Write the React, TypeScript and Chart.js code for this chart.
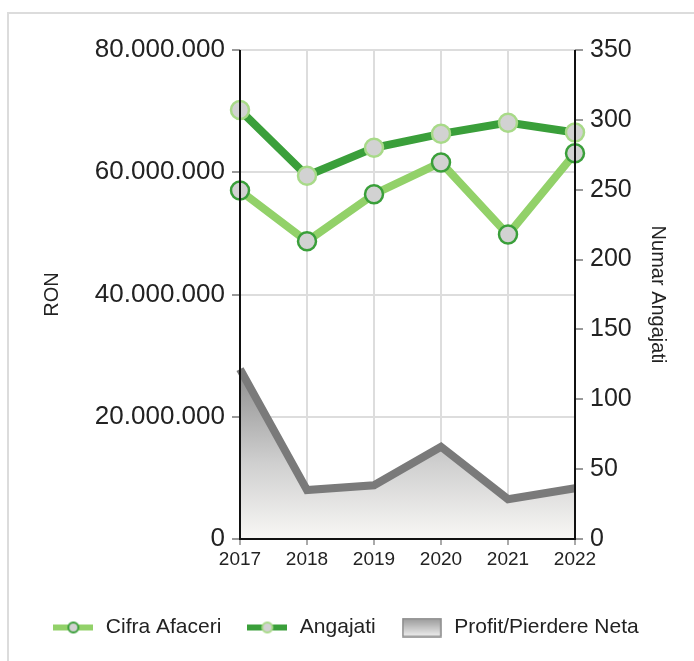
import React, { useEffect, useRef } from "react";
import { Chart, registerables } from "chart.js";

Chart.register(...registerables);

const years = ["2017", "2018", "2019", "2020", "2021", "2022"];
const cifraAfaceri = [57.0e6, 48.7e6, 56.4e6, 61.6e6, 49.8e6, 63.1e6];
const angajati = [307, 260, 280, 290, 298, 291];
const profitNet = [27.8e6, 8.0e6, 8.8e6, 15.1e6, 6.5e6, 8.3e6];
const leftTicks = [0, 20e6, 40e6, 60e6, 80e6];
const rightTicks = [0, 50, 100, 150, 200, 250, 300, 350];

const LIGHT_GREEN = "#92d169";
const DARK_GREEN = "#3a9f3a";
const POINT_FILL = "#d2d2d2";
const PROFIT_LINE = "#7a7a7a";
const FONT = "'Liberation Sans', Arial, Helvetica, sans-serif";

const fmtDots = (v: number) => String(Math.round(v)).replace(/\B(?=(\d{3})+(?!\d))/g, ".");

function lineIcon(lineColor: string, ringColor: string) {
  const c = document.createElement("canvas");
  c.width = 40;
  c.height = 20;
  const g = c.getContext("2d")!;
  g.strokeStyle = lineColor;
  g.lineWidth = 6;
  g.beginPath();
  g.moveTo(0, 10);
  g.lineTo(40, 10);
  g.stroke();
  g.beginPath();
  g.arc(20, 10, 5, 0, Math.PI * 2);
  g.fillStyle = POINT_FILL;
  g.fill();
  g.lineWidth = 2;
  g.strokeStyle = ringColor;
  g.stroke();
  return c;
}

function boxIcon() {
  const c = document.createElement("canvas");
  c.width = 40;
  c.height = 20;
  const g = c.getContext("2d")!;
  const gr = g.createLinearGradient(0, 1, 0, 19);
  gr.addColorStop(0, "#9a9a9a");
  gr.addColorStop(1, "#eeeeee");
  g.fillStyle = gr;
  g.fillRect(1, 1, 38, 18);
  g.strokeStyle = "#888888";
  g.lineWidth = 1.5;
  g.strokeRect(1, 1, 38, 18);
  return c;
}

const axisLines = {
  id: "axisLines",
  afterDatasetsDraw(chart: any) {
    const { ctx, chartArea } = chart;
    const { left, right, top, bottom } = chartArea;
    ctx.save();
    ctx.strokeStyle = "#111111";
    ctx.lineWidth = 2;
    ctx.beginPath();
    ctx.moveTo(left, top);
    ctx.lineTo(left, bottom);
    ctx.lineTo(right, bottom);
    ctx.lineTo(right, top);
    ctx.stroke();
    ctx.restore();
  },
};

export default function App() {
  const ref = useRef<HTMLCanvasElement | null>(null);

  useEffect(() => {
    if (!ref.current) return;
    const icons = [lineIcon(LIGHT_GREEN, DARK_GREEN), lineIcon(DARK_GREEN, "#a8da88"), boxIcon()];
    const chart = new Chart(ref.current, {
      type: "line",
      data: {
        labels: years,
        datasets: [
          {
            label: "Cifra Afaceri",
            data: cifraAfaceri,
            yAxisID: "y",
            borderColor: LIGHT_GREEN,
            borderWidth: 8,
            pointRadius: 9,
            pointBackgroundColor: POINT_FILL,
            pointBorderColor: DARK_GREEN,
            pointBorderWidth: 2.5,
            tension: 0,
            clip: false as any,
          },
          {
            label: "Angajati",
            data: angajati,
            yAxisID: "y1",
            borderColor: DARK_GREEN,
            borderWidth: 8,
            pointRadius: 9,
            pointBackgroundColor: POINT_FILL,
            pointBorderColor: "#a8da88",
            pointBorderWidth: 2.5,
            tension: 0,
            clip: false as any,
          },
          {
            label: "Profit/Pierdere Neta",
            data: profitNet,
            yAxisID: "y",
            borderColor: PROFIT_LINE,
            borderWidth: 8,
            pointRadius: 0,
            tension: 0,
            fill: "origin",
            backgroundColor: (ctx: any) => {
              const ch = ctx.chart;
              const area = ch.chartArea;
              if (!area) return "#cccccc";
              const yTop = ch.scales.y.getPixelForValue(Math.max(...profitNet));
              const gr = ch.ctx.createLinearGradient(0, yTop, 0, area.bottom);
              gr.addColorStop(0, "#8e8e8e");
              gr.addColorStop(0.55, "#cfcfcf");
              gr.addColorStop(1, "#f8f7f5");
              return gr;
            },
          },
        ],
      },
      options: {
        animation: false,
        responsive: false,
        maintainAspectRatio: false,
        layout: { padding: { left: 20, right: 24, top: 50, bottom: 13 } },
        plugins: {
          tooltip: { enabled: false },
          legend: {
            position: "bottom",
            labels: {
              usePointStyle: true,
              pointStyleWidth: 44,
              boxHeight: 20,
              padding: 24,
              color: "#222222",
              font: { family: FONT, size: 21 },
              generateLabels: (ch: any) =>
                ch.data.datasets.map((ds: any, i: number) => ({
                  text: ds.label,
                  pointStyle: icons[i],
                  fillStyle: "transparent",
                  strokeStyle: "transparent",
                  lineWidth: 0,
                  hidden: false,
                  datasetIndex: i,
                  fontColor: "#222222",
                })),
            },
          },
        },
        scales: {
          x: {
            offset: false,
            grid: { color: "#dddddd", lineWidth: 2, tickLength: 6, tickColor: "#aaaaaa" },
            border: { display: false },
            ticks: {
              autoSkip: false,
              maxRotation: 0,
              padding: 3,
              color: "#222222",
              font: { family: FONT, size: 19 },
            },
            afterFit: (s: any) => {
              s.height = 54;
            },
          },
          y: {
            position: "left",
            min: 0,
            max: 80e6,
            afterBuildTicks: (s: any) => {
              s.ticks = leftTicks.map((v) => ({ value: v }));
            },
            grid: { color: "#dddddd", lineWidth: 2, tickLength: 8, tickColor: "#999999" },
            border: { display: false },
            ticks: {
              padding: 7,
              color: "#222222",
              font: { family: FONT, size: 26 },
              callback: (v: any) => fmtDots(Number(v)),
            },
            title: {
              display: true,
              text: "RON",
              color: "#222222",
              font: { family: FONT, size: 20 },
              padding: { top: 20, bottom: 2 },
            },
            afterFit: (s: any) => {
              s.width = 220;
            },
          },
          y1: {
            position: "right",
            min: 0,
            max: 350,
            afterBuildTicks: (s: any) => {
              s.ticks = rightTicks.map((v) => ({ value: v }));
            },
            grid: { drawOnChartArea: false, tickLength: 8, tickColor: "#999999", lineWidth: 2 },
            border: { display: false },
            ticks: {
              padding: 7,
              color: "#222222",
              font: { family: FONT, size: 25 },
            },
            title: {
              display: true,
              text: "Numar Angajati",
              color: "#222222",
              font: { family: FONT, size: 20 },
              padding: { top: 0, bottom: 2 },
            },
            afterFit: (s: any) => {
              s.width = 95;
            },
          },
        },
      } as any,
      plugins: [axisLines],
    });
    return () => chart.destroy();
  }, []);

  return (
    <div
      style={{
        position: "absolute",
        left: 0,
        top: 0,
        width: 694,
        height: 661,
        overflow: "hidden",
        background: "#ffffff",
      }}
    >
      <div
        style={{
          position: "absolute",
          left: 7,
          top: 12,
          width: 720,
          height: 700,
          borderLeft: "2px solid #dcdcdc",
          borderTop: "2px solid #dcdcdc",
        }}
      />
      <canvas
        ref={ref}
        width={694}
        height={661}
        style={{ position: "absolute", left: 0, top: 0, width: 694, height: 661 }}
      />
    </div>
  );
}
